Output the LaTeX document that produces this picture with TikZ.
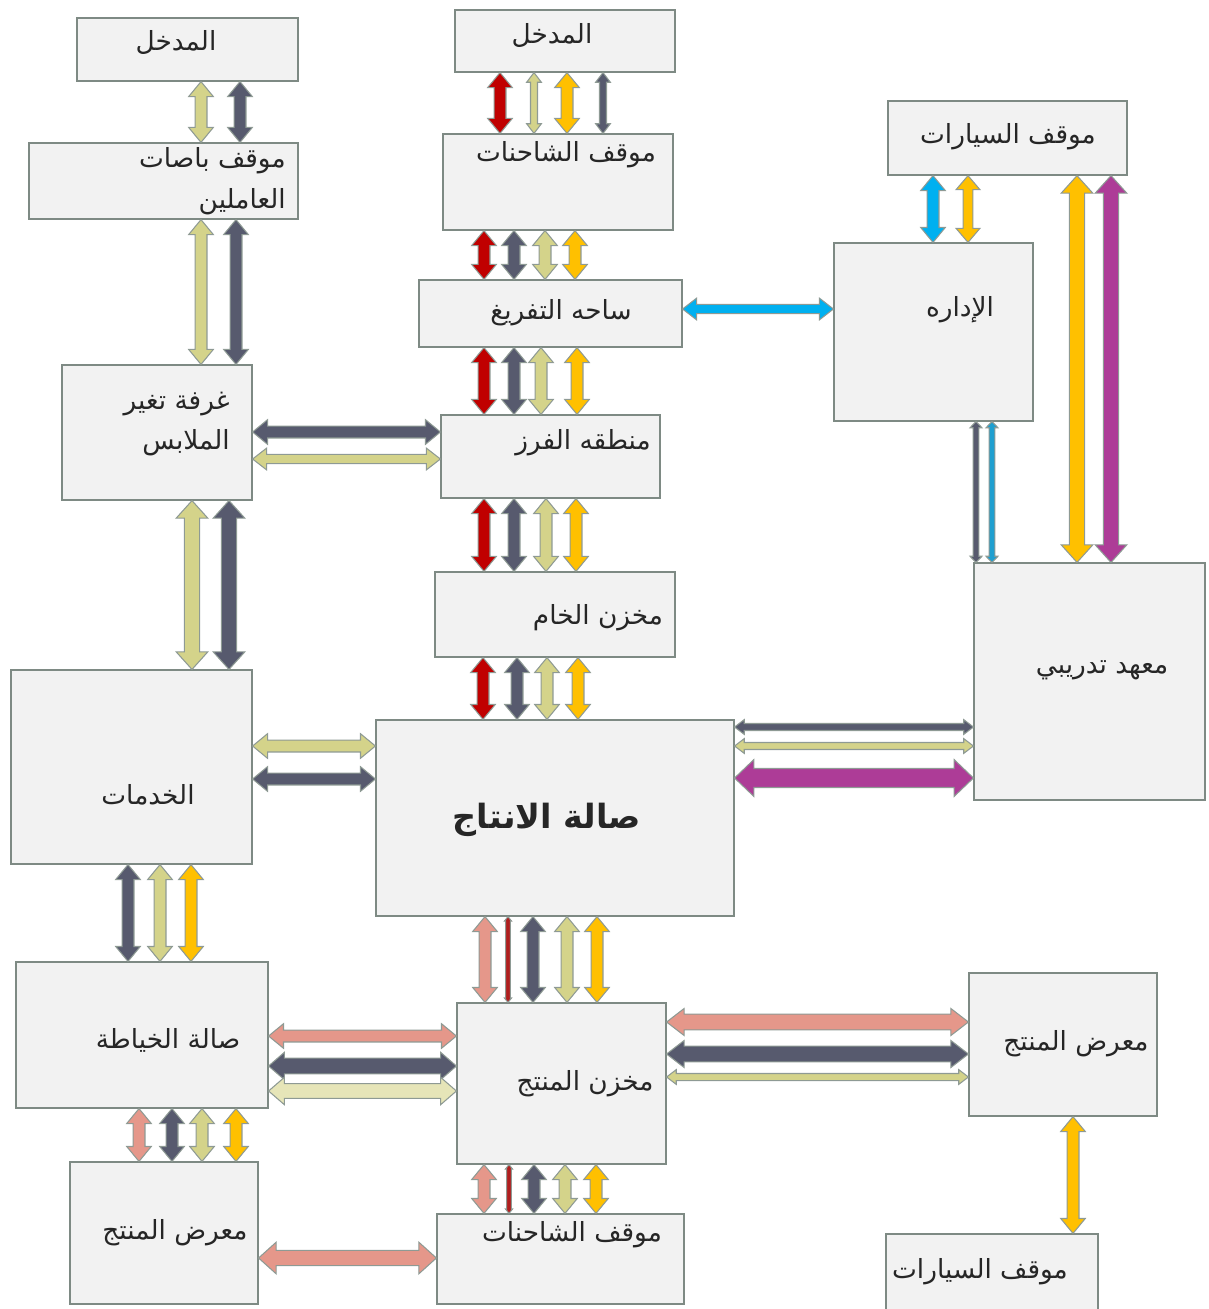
\documentclass[tikz,border=0pt]{standalone}
\usepackage{fontspec}
\usepackage{xcolor}
\usepackage{tikz}
\usetikzlibrary{calc}
\newfontfamily\arabicfont[Script=Arabic]{DejaVu Sans}
\TeXXeTstate=1

\definecolor{boxfill}{HTML}{F2F2F2}
\definecolor{boxline}{HTML}{7E8A84}
\definecolor{edgeline}{HTML}{8E9A94}
\definecolor{textdark}{HTML}{262626}
\definecolor{redflow}{HTML}{C00000}
\definecolor{slate}{HTML}{575A6E}
\definecolor{khaki}{HTML}{D4D38A}
\definecolor{pale}{HTML}{E6E5B8}
\definecolor{gold}{HTML}{FFC000}
\definecolor{sky}{HTML}{00B0F0}
\definecolor{adminblue}{HTML}{1F9FD0}
\definecolor{plum}{HTML}{AD3C97}
\definecolor{salmon}{HTML}{E5978A}
\definecolor{brick}{HTML}{B01E1E}

\newcommand{\rtltext}[1]{\beginR #1\endR}

% block arrow sizes: half shaft, half head, head length
\tikzset{
  flow/.code n args={3}{\def\flowsh{#1}\def\flowhd{#2}\def\flowhl{#3}},
  line flow/.style={flow={1.4pt}{2pt}{2.5pt}},
  tiny flow/.style={flow={1.6pt}{3.4pt}{3.5pt}},
  slim flow/.style={flow={2pt}{4.2pt}{5.5pt}},
  mid flow/.style={flow={3.4pt}{7pt}{8.5pt}},
  wide flow/.style={flow={4.3pt}{9pt}{10pt}},
  huge flow/.style={flow={5.4pt}{10.5pt}{11pt}}
}

% double headed block arrow from #3 to #4
\newcommand{\flow}[4][mid flow]{%
  \filldraw[#1, fill=#2, draw=edgeline, line width=0.6pt, line join=miter]
    (#3) -- ($(#3)!\flowhl!(#4)!\flowhd!90:(#4)$) -- ($(#3)!\flowhl!(#4)!\flowsh!90:(#4)$)
    -- ($(#4)!\flowhl!(#3)!\flowsh!-90:(#3)$) -- ($(#4)!\flowhl!(#3)!\flowhd!-90:(#3)$)
    -- (#4) -- ($(#4)!\flowhl!(#3)!\flowhd!90:(#3)$) -- ($(#4)!\flowhl!(#3)!\flowsh!90:(#3)$)
    -- ($(#3)!\flowhl!(#4)!\flowsh!-90:(#4)$) -- ($(#3)!\flowhl!(#4)!\flowhd!-90:(#4)$) -- cycle;}

\begin{document}
\begin{tikzpicture}[x=0.02cm, y=-0.02cm,
  box/.style={draw=boxline, fill=boxfill, line width=0.7pt, inner sep=0pt},
  lbl/.style={font=\arabicfont\fontsize{15}{17}\selectfont, text=textdark, inner sep=0pt}]
\useasboundingbox (0,0) rectangle (1208,1309);

% boxes
\node[box, minimum width=4.42cm, minimum height=1.26cm] (in1) at (187.5,49.5) {};
\node[box, minimum width=5.38cm, minimum height=1.52cm] (bus) at (163.5,181) {};
\node[box, minimum width=4.40cm, minimum height=1.24cm] (in2) at (565,41) {};
\node[box, minimum width=4.60cm, minimum height=1.92cm] (trucks1) at (558,182) {};
\node[box, minimum width=5.26cm, minimum height=1.34cm] (unload) at (550.5,313.5) {};
\node[box, minimum width=4.78cm, minimum height=1.48cm] (cars1) at (1007.5,138) {};
\node[box, minimum width=3.98cm, minimum height=3.56cm] (admin) at (933.5,332) {};
\node[box, minimum width=3.80cm, minimum height=2.70cm] (change) at (157,432.5) {};
\node[box, minimum width=4.38cm, minimum height=1.66cm] (sort) at (550.5,456.5) {};
\node[box, minimum width=4.80cm, minimum height=1.70cm] (raw) at (555,614.5) {};
\node[box, minimum width=4.62cm, minimum height=4.74cm] (institute) at (1089.5,681.5) {};
\node[box, minimum width=4.82cm, minimum height=3.88cm] (services) at (131.5,767) {};
\node[box, minimum width=7.16cm, minimum height=3.92cm] (prod) at (555,818) {};
\node[box, minimum width=5.04cm, minimum height=2.92cm] (sewing) at (142,1035) {};
\node[box, minimum width=4.18cm, minimum height=3.22cm] (store) at (561.5,1083.5) {};
\node[box, minimum width=3.76cm, minimum height=2.86cm] (show2) at (1063,1044.5) {};
\node[box, minimum width=3.76cm, minimum height=2.84cm] (show1) at (164,1233) {};
\node[box, minimum width=4.94cm, minimum height=1.80cm] (trucks2) at (560.5,1259) {};
\node[box, minimum width=4.24cm, minimum height=1.72cm] (cars2) at (992,1277) {};

% texts
\node[lbl] (in1 text) at (176,42) {\rtltext{المدخل}};
\node[lbl, anchor=east, align=right] (bus text) at (286,181) {\rtltext{موقف باصات}\\[6pt]\rtltext{العاملين}};
\node[lbl] (in2 text) at (552,35) {\rtltext{المدخل}};
\node[lbl] (trucks1 text) at (566,155) {\rtltext{موقف الشاحنات}};
\node[lbl] (unload text) at (561,313) {\rtltext{ساحه التفريغ}};
\node[lbl] (cars1 text) at (1008,137) {\rtltext{موقف السيارات}};
\node[lbl] (admin text) at (960,310) {\rtltext{الإداره}};
\node[lbl, anchor=east, align=right] (change text) at (230,424) {\rtltext{غرفة تغير}\\[6pt]\rtltext{الملابس}};
\node[lbl] (sort text) at (583,443) {\rtltext{منطقه الفرز}};
\node[lbl] (raw text) at (598,618) {\rtltext{مخزن الخام}};
\node[lbl] (institute text) at (1102,670) {\rtltext{معهد تدريبي}};
\node[lbl] (services text) at (148,795) {\rtltext{الخدمات}};
\node[lbl, font=\arabicfont\bfseries\fontsize{19}{22}\selectfont] (prod text) at (547,820) {\rtltext{صالة الانتاج}};
\node[lbl] (sewing text) at (168,1040) {\rtltext{صالة الخياطة}};
\node[lbl] (store text) at (585,1084) {\rtltext{مخزن المنتج}};
\node[lbl] (show2 text) at (1076,1044) {\rtltext{معرض المنتج}};
\node[lbl] (show1 text) at (175,1233) {\rtltext{معرض المنتج}};
\node[lbl] (trucks2 text) at (572,1235) {\rtltext{موقف الشاحنات}};
\node[lbl] (cars2 text) at (980,1272) {\rtltext{موقف السيارات}};

% left column
\flow{khaki}{in1.south -| 201,0}{bus.north -| 201,0}
\flow{slate}{in1.south -| 240,0}{bus.north -| 240,0}
\flow{khaki}{bus.south -| 201,0}{change.north -| 201,0}
\flow{slate}{bus.south -| 236,0}{change.north -| 236,0}
\flow[wide flow]{khaki}{change.south -| 192,0}{services.north -| 192,0}
\flow[wide flow]{slate}{change.south -| 229,0}{services.north -| 229,0}
\flow{slate}{change.east |- 0,432}{sort.west |- 0,432}
\flow[flow={2.6pt}{6.2pt}{8pt}]{khaki}{change.east |- 0,459}{sort.west |- 0,459}

% middle column
\flow{redflow}{in2.south -| 500,0}{trucks1.north -| 500,0}
\flow[slim flow]{khaki}{in2.south -| 534,0}{trucks1.north -| 534,0}
\flow{gold}{in2.south -| 567,0}{trucks1.north -| 567,0}
\flow[slim flow]{slate}{in2.south -| 603,0}{trucks1.north -| 603,0}
\flow{redflow}{trucks1.south -| 484,0}{unload.north -| 484,0}
\flow{slate}{trucks1.south -| 514,0}{unload.north -| 514,0}
\flow{khaki}{trucks1.south -| 545,0}{unload.north -| 545,0}
\flow{gold}{trucks1.south -| 575,0}{unload.north -| 575,0}
\flow{redflow}{unload.south -| 484,0}{sort.north -| 484,0}
\flow{slate}{unload.south -| 514,0}{sort.north -| 514,0}
\flow{khaki}{unload.south -| 541,0}{sort.north -| 541,0}
\flow{gold}{unload.south -| 577,0}{sort.north -| 577,0}
\flow{redflow}{sort.south -| 484,0}{raw.north -| 484,0}
\flow{slate}{sort.south -| 514,0}{raw.north -| 514,0}
\flow{khaki}{sort.south -| 546,0}{raw.north -| 546,0}
\flow{gold}{sort.south -| 576,0}{raw.north -| 576,0}
\flow{redflow}{raw.south -| 483,0}{prod.north -| 483,0}
\flow{slate}{raw.south -| 517,0}{prod.north -| 517,0}
\flow{khaki}{raw.south -| 547,0}{prod.north -| 547,0}
\flow{gold}{raw.south -| 578,0}{prod.north -| 578,0}

% right column
\flow[flow={2.6pt}{6.2pt}{8pt}]{sky}{unload.east |- 0,309}{admin.west |- 0,309}
\flow{sky}{cars1.south -| 933,0}{admin.north -| 933,0}
\flow[flow={2.8pt}{6.8pt}{8pt}]{gold}{cars1.south -| 968,0}{admin.north -| 968,0}
\flow[wide flow]{gold}{cars1.south -| 1077,0}{institute.north -| 1077,0}
\flow[wide flow]{plum}{cars1.south -| 1111,0}{institute.north -| 1111,0}
\flow[tiny flow]{slate}{admin.south -| 976,0}{institute.north -| 976,0}
\flow[tiny flow]{adminblue}{admin.south -| 992,0}{institute.north -| 992,0}
\flow[slim flow]{slate}{prod.east |- 0,727}{institute.west |- 0,727}
\flow[slim flow]{khaki}{prod.east |- 0,746}{institute.west |- 0,746}
\flow[huge flow]{plum}{prod.east |- 0,778}{institute.west |- 0,778}

% lower part
\flow{khaki}{services.east |- 0,746}{prod.west |- 0,746}
\flow{slate}{services.east |- 0,779}{prod.west |- 0,779}
\flow{slate}{services.south -| 128,0}{sewing.north -| 128,0}
\flow{khaki}{services.south -| 160,0}{sewing.north -| 160,0}
\flow{gold}{services.south -| 191,0}{sewing.north -| 191,0}
\flow{salmon}{prod.south -| 485,0}{store.north -| 485,0}
\flow[line flow]{brick}{prod.south -| 508,0}{store.north -| 508,0}
\flow{slate}{prod.south -| 533,0}{store.north -| 533,0}
\flow{khaki}{prod.south -| 567,0}{store.north -| 567,0}
\flow{gold}{prod.south -| 597,0}{store.north -| 597,0}
\flow{salmon}{sewing.east |- 0,1036}{store.west |- 0,1036}
\flow[flow={4.5pt}{7.8pt}{9pt}]{slate}{sewing.east |- 0,1066}{store.west |- 0,1066}
\flow[flow={4.2pt}{7.8pt}{9pt}]{pale}{sewing.east |- 0,1091}{store.west |- 0,1091}
\flow{salmon}{sewing.south -| 139,0}{show1.north -| 139,0}
\flow{slate}{sewing.south -| 172,0}{show1.north -| 172,0}
\flow{khaki}{sewing.south -| 202,0}{show1.north -| 202,0}
\flow{gold}{sewing.south -| 236,0}{show1.north -| 236,0}
\flow[wide flow]{salmon}{show1.east |- 0,1258}{trucks2.west |- 0,1258}
\flow{salmon}{store.south -| 484,0}{trucks2.north -| 484,0}
\flow[line flow]{brick}{store.south -| 509,0}{trucks2.north -| 509,0}
\flow{slate}{store.south -| 534,0}{trucks2.north -| 534,0}
\flow{khaki}{store.south -| 565,0}{trucks2.north -| 565,0}
\flow{gold}{store.south -| 596,0}{trucks2.north -| 596,0}
\flow[flow={4.5pt}{7.7pt}{10pt}]{salmon}{store.east |- 0,1022}{show2.west |- 0,1022}
\flow[flow={4.5pt}{7.7pt}{10pt}]{slate}{store.east |- 0,1054}{show2.west |- 0,1054}
\flow[slim flow]{khaki}{store.east |- 0,1077}{show2.west |- 0,1077}
\flow{gold}{show2.south -| 1073,0}{cars2.north -| 1073,0}
\end{tikzpicture}
\end{document}
